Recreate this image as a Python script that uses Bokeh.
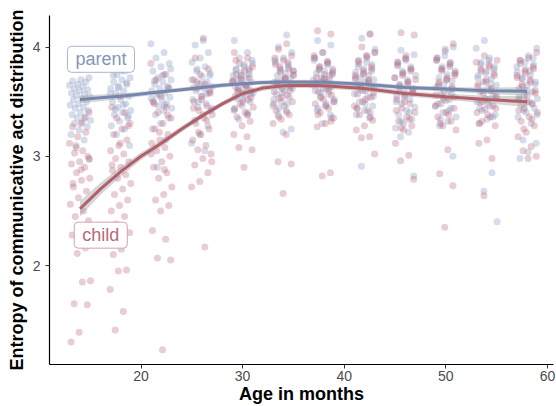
from bokeh.plotting import figure
from bokeh.models import Label, FixedTicker
from bokeh.embed import file_html
from bokeh.resources import INLINE

ages = [14, 18, 22, 26, 30, 34, 38, 42, 46, 50, 54, 58]

parent_vals = [
    [3.72, 3.70, 3.69, 3.68, 3.66, 3.65, 3.64, 3.62, 3.61, 3.60, 3.58, 3.57, 3.56, 3.55, 3.53, 3.52, 3.50, 3.48, 3.47, 3.45, 3.44, 3.42, 3.40, 3.38, 3.36, 3.35, 3.33, 3.31, 3.30, 3.27, 3.24, 3.20, 3.15, 3.10, 2.97],
    [3.85, 3.80, 3.78, 3.75, 3.72, 3.70, 3.68, 3.66, 3.64, 3.62, 3.60, 3.58, 3.55, 3.52, 3.50, 3.48, 3.45, 3.42, 3.40, 3.38, 3.35, 3.32, 3.28, 3.25, 3.20, 3.10, 3.78, 3.74, 3.67, 3.63, 3.57, 3.47, 3.43, 3.37],
    [4.03, 3.95, 3.90, 3.85, 3.82, 3.78, 3.75, 3.72, 3.70, 3.68, 3.66, 3.64, 3.62, 3.60, 3.58, 3.56, 3.54, 3.52, 3.50, 3.48, 3.46, 3.44, 3.42, 3.38, 3.35, 3.30, 3.25, 3.15, 2.90, 3.80, 3.74, 3.69, 3.63, 3.57, 3.53, 3.47],
    [4.06, 4.02, 3.95, 3.90, 3.86, 3.82, 3.80, 3.76, 3.73, 3.70, 3.68, 3.66, 3.64, 3.62, 3.60, 3.58, 3.55, 3.52, 3.48, 3.45, 3.42, 3.38, 3.33, 3.28, 3.20, 3.12, 3.05, 3.78, 3.74, 3.67, 3.63, 3.57, 3.50, 3.44],
    [4.06, 3.95, 3.90, 3.85, 3.82, 3.80, 3.78, 3.76, 3.74, 3.72, 3.70, 3.68, 3.66, 3.64, 3.62, 3.60, 3.58, 3.56, 3.53, 3.50, 3.46, 3.42, 3.38, 3.34, 3.88, 3.84, 3.79, 3.75, 3.71, 3.69, 3.65, 3.61, 3.57, 3.52, 3.44, 3.40],
    [4.11, 4.00, 3.95, 3.90, 3.86, 3.82, 3.80, 3.78, 3.76, 3.74, 3.72, 3.70, 3.68, 3.66, 3.64, 3.62, 3.60, 3.57, 3.54, 3.50, 3.46, 3.42, 3.38, 3.25, 3.22, 3.88, 3.84, 3.79, 3.75, 3.71, 3.67, 3.63, 3.58, 3.52, 3.48, 3.44],
    [4.06, 4.02, 3.95, 3.90, 3.86, 3.82, 3.80, 3.78, 3.76, 3.74, 3.72, 3.70, 3.68, 3.66, 3.64, 3.62, 3.60, 3.57, 3.54, 3.50, 3.46, 3.42, 3.38, 3.30, 3.88, 3.84, 3.79, 3.75, 3.71, 3.67, 3.63, 3.58, 3.52, 3.48, 3.44, 3.35],
    [4.12, 4.08, 3.98, 3.92, 3.88, 3.84, 3.80, 3.77, 3.74, 3.72, 3.70, 3.68, 3.66, 3.63, 3.60, 3.57, 3.54, 3.50, 3.46, 3.42, 3.38, 3.35, 2.91, 3.95, 3.86, 3.82, 3.78, 3.75, 3.71, 3.67, 3.61, 3.55, 3.48, 3.44, 3.40],
    [3.97, 3.93, 3.88, 3.84, 3.80, 3.76, 3.72, 3.68, 3.65, 3.62, 3.58, 3.55, 3.52, 3.48, 3.45, 3.42, 3.38, 3.34, 3.30, 3.26, 3.22, 3.18, 2.82, 3.90, 3.86, 3.82, 3.78, 3.74, 3.70, 3.66, 3.60, 3.54, 3.50, 3.40, 3.32],
    [4.00, 3.96, 3.90, 3.86, 3.82, 3.78, 3.75, 3.72, 3.69, 3.66, 3.63, 3.60, 3.57, 3.54, 3.51, 3.48, 3.44, 3.40, 3.36, 3.32, 3.28, 3.00, 3.92, 3.88, 3.84, 3.80, 3.76, 3.70, 3.64, 3.58, 3.52, 3.46, 3.42, 3.34],
    [4.06, 3.99, 3.90, 3.86, 3.82, 3.78, 3.74, 3.71, 3.68, 3.65, 3.62, 3.59, 3.56, 3.53, 3.50, 3.46, 3.42, 3.38, 3.34, 3.30, 2.85, 2.68, 2.40, 3.88, 3.84, 3.80, 3.76, 3.72, 3.66, 3.60, 3.54, 3.48, 3.44, 3.36],
    [3.99, 3.92, 3.88, 3.84, 3.80, 3.77, 3.74, 3.71, 3.68, 3.65, 3.62, 3.59, 3.56, 3.53, 3.50, 3.47, 3.44, 3.40, 3.36, 3.30, 3.15, 3.12, 3.04, 2.98, 3.90, 3.86, 3.82, 3.78, 3.72, 3.66, 3.60, 3.54, 3.48, 3.42, 3.38],
]

child_vals = [
    [3.40, 3.30, 3.27, 3.22, 3.18, 3.12, 3.05, 3.03, 3.00, 2.95, 2.93, 2.90, 2.85, 2.80, 2.78, 2.72, 2.68, 2.62, 2.56, 2.50, 2.45, 2.41, 2.35, 2.28, 2.16, 2.11, 1.86, 1.85, 1.65, 1.64, 1.39, 1.30, 3.35, 3.08, 2.98, 2.88, 2.75],
    [3.55, 3.45, 3.40, 3.35, 3.30, 3.25, 3.20, 3.15, 3.10, 3.05, 3.02, 2.98, 2.95, 2.90, 2.87, 2.83, 2.80, 2.75, 2.70, 2.65, 2.60, 2.55, 2.50, 2.45, 2.38, 2.30, 2.15, 2.10, 1.96, 1.95, 1.78, 1.58, 1.41, 3.28, 3.12, 2.92],
    [3.85, 3.75, 3.70, 3.62, 3.55, 3.50, 3.45, 3.40, 3.35, 3.30, 3.25, 3.20, 3.15, 3.12, 3.08, 3.05, 3.00, 2.95, 2.90, 2.85, 2.80, 2.72, 2.65, 2.60, 2.55, 2.50, 2.32, 2.24, 2.07, 2.05, 1.23, 3.48, 3.38, 3.22, 3.02, 2.88],
    [4.08, 3.90, 3.80, 3.75, 3.70, 3.66, 3.62, 3.58, 3.55, 3.50, 3.46, 3.42, 3.38, 3.35, 3.30, 3.25, 3.20, 3.15, 3.10, 3.06, 3.02, 2.98, 2.92, 2.85, 2.77, 2.72, 2.17, 3.68, 3.60, 3.52, 3.44, 3.33, 3.22, 2.95],
    [3.95, 3.90, 3.85, 3.82, 3.78, 3.75, 3.72, 3.70, 3.68, 3.65, 3.62, 3.60, 3.58, 3.55, 3.52, 3.48, 3.45, 3.40, 3.36, 3.32, 3.28, 3.20, 3.18, 3.08, 3.06, 2.90, 3.88, 3.80, 3.74, 3.69, 3.64, 3.59, 3.54, 3.50, 3.43, 3.38],
    [4.03, 3.98, 3.92, 3.88, 3.84, 3.80, 3.77, 3.74, 3.71, 3.68, 3.65, 3.62, 3.59, 3.56, 3.53, 3.50, 3.46, 3.42, 3.38, 3.34, 3.30, 3.20, 2.95, 2.93, 2.66, 3.90, 3.86, 3.82, 3.78, 3.72, 3.66, 3.60, 3.54, 3.48, 3.40, 3.36],
    [4.15, 4.12, 3.95, 3.90, 3.85, 3.82, 3.78, 3.75, 3.72, 3.70, 3.68, 3.65, 3.62, 3.59, 3.56, 3.52, 3.48, 3.44, 3.40, 3.35, 3.30, 3.27, 2.85, 2.82, 3.92, 3.87, 3.80, 3.76, 3.71, 3.66, 3.60, 3.54, 3.50, 3.46, 3.38, 3.32],
    [4.12, 4.00, 3.95, 3.90, 3.85, 3.80, 3.76, 3.72, 3.69, 3.66, 3.63, 3.60, 3.57, 3.54, 3.50, 3.46, 3.42, 3.38, 3.33, 3.28, 3.24, 3.18, 3.17, 3.02, 3.92, 3.87, 3.82, 3.78, 3.74, 3.70, 3.64, 3.58, 3.52, 3.44, 3.36],
    [4.13, 4.11, 3.92, 3.86, 3.80, 3.76, 3.72, 3.68, 3.64, 3.60, 3.56, 3.52, 3.48, 3.44, 3.40, 3.36, 3.32, 3.28, 3.24, 3.12, 3.01, 2.96, 2.79, 3.89, 3.83, 3.78, 3.74, 3.70, 3.66, 3.62, 3.58, 3.50, 3.42, 3.34, 3.26],
    [4.03, 3.98, 3.90, 3.85, 3.80, 3.76, 3.72, 3.68, 3.64, 3.60, 3.56, 3.52, 3.48, 3.44, 3.40, 3.36, 3.32, 3.28, 3.24, 3.06, 2.84, 2.73, 2.35, 3.88, 3.82, 3.78, 3.74, 3.70, 3.66, 3.62, 3.54, 3.46, 3.38, 3.30],
    [3.92, 3.86, 3.82, 3.78, 3.74, 3.70, 3.66, 3.62, 3.58, 3.55, 3.52, 3.49, 3.46, 3.43, 3.40, 3.36, 3.32, 3.28, 3.15, 3.12, 2.98, 2.64, 3.88, 3.84, 3.80, 3.76, 3.68, 3.64, 3.60, 3.50, 3.44, 3.38, 3.30],
    [3.95, 3.90, 3.85, 3.80, 3.76, 3.72, 3.68, 3.64, 3.60, 3.56, 3.52, 3.48, 3.44, 3.40, 3.36, 3.32, 3.28, 3.22, 3.18, 3.09, 3.05, 3.00, 2.98, 3.88, 3.82, 3.78, 3.74, 3.70, 3.66, 3.58, 3.50, 3.42, 3.34, 3.25],
]

fit_ages = [14, 16, 18, 20, 22, 24, 26, 28, 30, 32, 34, 36, 38, 42, 46, 50, 54, 58]
parent_fit = [3.52, 3.535, 3.55, 3.57, 3.59, 3.61, 3.63, 3.65, 3.665, 3.675, 3.68, 3.68, 3.678, 3.66, 3.63, 3.615, 3.60, 3.595]
parent_se = [0.035, 0.03, 0.025, 0.022, 0.02, 0.02, 0.02, 0.02, 0.02, 0.02, 0.02, 0.02, 0.02, 0.02, 0.02, 0.022, 0.028, 0.04]
child_fit = [2.52, 2.70, 2.86, 3.00, 3.12, 3.25, 3.37, 3.48, 3.575, 3.625, 3.645, 3.65, 3.645, 3.62, 3.575, 3.545, 3.52, 3.50]
child_se = [0.07, 0.055, 0.045, 0.035, 0.03, 0.028, 0.026, 0.025, 0.025, 0.025, 0.025, 0.025, 0.025, 0.025, 0.025, 0.028, 0.035, 0.05]

x_ticks = [20, 30, 40, 50, 60]
y_ticks = [2, 3, 4]

PARENT_PT = "#8a9bc2"
CHILD_PT = "#b8637a"
PARENT_LN = "#7487b0"
CHILD_LN = "#b25e6b"
FONT = "Liberation Sans"


def jittered(vals_by_group):
    xs, ys = [], []
    for age, vals in zip(ages, vals_by_group):
        for i, v in enumerate(vals):
            off = ((i * 0.6180339887 + age * 0.137) % 1.0 - 0.5) * 2.1
            xs.append(age + off)
            ys.append(v)
    return xs, ys


p = figure(width=556, height=406, output_backend="svg", toolbar_location=None,
           x_range=(10.996, 60.59), y_range=(1.094, 4.289),
           min_border_left=49, min_border_right=3, min_border_top=15, min_border_bottom=41)
p.outline_line_color = None
p.xgrid.visible = False
p.ygrid.visible = False
p.background_fill_color = "white"
p.border_fill_color = "white"

cx, cy = jittered(child_vals)
px, py = jittered(parent_vals)
p.scatter(x=px, y=py, size=7, fill_color=PARENT_PT, fill_alpha=0.35, line_color=None)
p.scatter(x=cx, y=cy, size=7, fill_color=CHILD_PT, fill_alpha=0.32, line_color=None)

for fit, se, col in [(parent_fit, parent_se, PARENT_LN), (child_fit, child_se, CHILD_LN)]:
    lo = [f - s for f, s in zip(fit, se)]
    hi = [f + s for f, s in zip(fit, se)]
    p.varea(x=fit_ages, y1=lo, y2=hi, fill_color="#999999", fill_alpha=0.4)
    p.line(x=fit_ages, y=fit, line_color=col, line_width=3)

pad = dict(left=8, right=8, top=3, bottom=3)
p.add_layout(Label(x=16.06, y=3.888, text="parent", text_font=FONT, text_font_size="18px",
                   text_color="#8595b8", text_align="center", text_baseline="middle",
                   background_fill_color="white", background_fill_alpha=1.0,
                   border_line_color="#a9b5cf", border_line_width=1, border_radius=4,
                   padding=pad))
p.add_layout(Label(x=16.04, y=2.278, text="child", text_font=FONT, text_font_size="18px",
                   text_color="#b5697a", text_align="center", text_baseline="middle",
                   background_fill_color="white", background_fill_alpha=1.0,
                   border_line_color="#d0a3ad", border_line_width=1, border_radius=4,
                   padding=pad))

for ax in (p.xaxis, p.yaxis):
    ax.axis_line_color = "black"
    ax.axis_line_width = 1.2
    ax.major_tick_line_color = "#333333"
    ax.major_tick_out = 4
    ax.major_tick_in = 0
    ax.minor_tick_line_color = None
    ax.major_label_text_font = FONT
    ax.major_label_text_font_size = "14px"
    ax.major_label_text_color = "#4d4d4d"
    ax.axis_label_text_font = FONT
    ax.axis_label_text_font_style = "bold"
    ax.axis_label_text_font_size = "18px"
    ax.axis_label_text_color = "black"

p.xaxis.major_label_standoff = 2
p.xaxis.axis_label_standoff = 0
p.yaxis.major_label_standoff = 5
p.yaxis.axis_label_standoff = 3
p.xaxis.ticker = FixedTicker(ticks=x_ticks)
p.yaxis.ticker = FixedTicker(ticks=y_ticks)
p.xaxis.axis_label = "Age in months"
p.yaxis.axis_label = "Entropy of communicative act distribution"

open("out.html", "w").write(file_html(p, INLINE))
